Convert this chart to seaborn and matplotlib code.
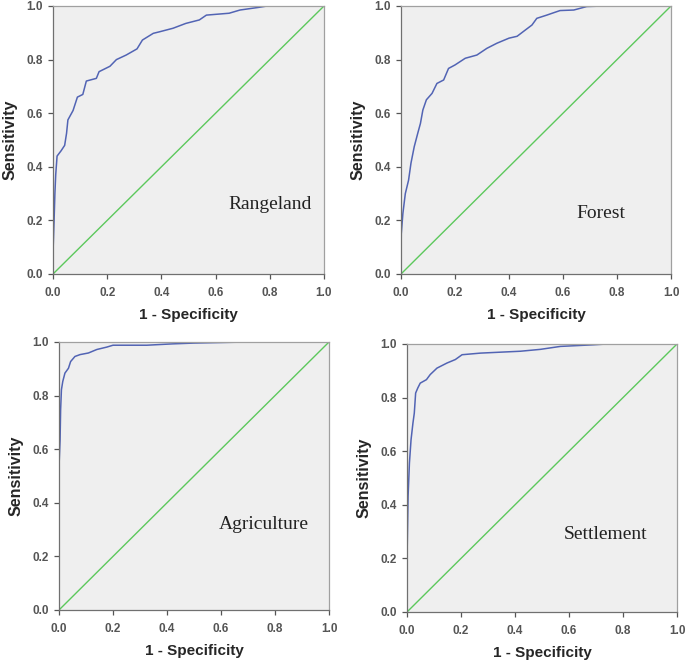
import pandas as pd
import seaborn as sns
import matplotlib
matplotlib.use("Agg")
import matplotlib.pyplot as plt

# ROC curve points (1 - specificity, sensitivity)
range_fpr = [0.0, 0.0, 0.004, 0.007, 0.01, 0.015, 0.03, 0.043, 0.05, 0.055, 0.074, 0.09, 0.11,
             0.123, 0.16, 0.17, 0.21, 0.234, 0.27, 0.31, 0.33, 0.37, 0.394, 0.443, 0.49, 0.54,
             0.566, 0.65, 0.69, 0.76, 0.79, 0.91]
range_tpr = [0.0, 0.08, 0.2, 0.3, 0.37, 0.44, 0.46, 0.48, 0.525, 0.575, 0.61, 0.66, 0.67,
             0.72, 0.73, 0.755, 0.775, 0.80, 0.817, 0.84, 0.873, 0.898, 0.904, 0.917, 0.935, 0.948,
             0.966, 0.973, 0.985, 0.995, 1.0, 1.0]

forest_fpr = [0.0, 0.001, 0.007, 0.016, 0.028, 0.037, 0.049, 0.062, 0.072, 0.081, 0.094, 0.115,
              0.133, 0.158, 0.176, 0.20, 0.238, 0.281, 0.318, 0.355, 0.40, 0.43, 0.46, 0.485,
              0.503, 0.54, 0.56, 0.589, 0.64, 0.688, 0.75]
forest_tpr = [0.0, 0.15, 0.226, 0.30, 0.35, 0.414, 0.475, 0.525, 0.562, 0.612, 0.65, 0.674,
              0.711, 0.724, 0.767, 0.78, 0.805, 0.817, 0.842, 0.861, 0.88, 0.887, 0.91, 0.929,
              0.954, 0.966, 0.973, 0.983, 0.985, 0.998, 1.0]

agri_fpr = [0.0, 0.0, 0.004, 0.006, 0.009, 0.014, 0.022, 0.035, 0.043, 0.059, 0.078, 0.109,
            0.14, 0.177, 0.20, 0.325, 0.42, 0.50, 0.646, 0.72]
agri_tpr = [0.0, 0.535, 0.635, 0.747, 0.822, 0.853, 0.884, 0.902, 0.927, 0.946, 0.953, 0.959,
            0.972, 0.981, 0.988, 0.988, 0.993, 0.996, 0.999, 1.0]

settle_fpr = [0.0, 0.0, 0.004, 0.009, 0.015, 0.022, 0.027, 0.032, 0.04, 0.049, 0.072, 0.086,
              0.111, 0.148, 0.179, 0.204, 0.272, 0.42, 0.494, 0.568, 0.69, 0.74, 0.84]
settle_tpr = [0.0, 0.195, 0.432, 0.556, 0.643, 0.705, 0.742, 0.817, 0.836, 0.854, 0.867, 0.886,
              0.91, 0.929, 0.942, 0.96, 0.966, 0.973, 0.98, 0.991, 0.997, 1.0, 1.0]

panel_names = ["Rangeland", "Forest", "Agriculture", "Settlement"]
label_pos = [(0.80, 0.26), (0.74, 0.226), (0.757, 0.318), (0.735, 0.289)]
ticks = [0.0, 0.2, 0.4, 0.6, 0.8, 1.0]
ref_line = [0.0, 1.0]

curves = [(range_fpr, range_tpr), (forest_fpr, forest_tpr),
          (agri_fpr, agri_tpr), (settle_fpr, settle_tpr)]

sns.set_style("ticks")
plt.rcParams['font.family'] = ['Liberation Sans', 'DejaVu Sans']

W, H = 685, 660
fig = plt.figure(figsize=(W / 100, H / 100), dpi=100)

# pixel boxes of each panel: left, right, top, bottom
boxes = [(53, 324, 6, 274), (401, 671, 6, 274), (59, 329, 342, 610), (407, 677, 344, 612)]

for (fpr, tpr), name, (lx, ly), (l, r, t, b) in zip(curves, panel_names, label_pos, boxes):
    ax = fig.add_axes([l / W, (H - b) / H, (r - l) / W, (b - t) / H])
    ax.set_facecolor("#efefef")
    df = pd.DataFrame({"fpr": fpr, "tpr": tpr})
    sns.lineplot(x=ref_line, y=ref_line, ax=ax, color="#5cc85c", linewidth=1.0)
    sns.lineplot(data=df, x="fpr", y="tpr", ax=ax, color="#5264b4", linewidth=1.1,
                 sort=False, estimator=None)
    ax.set_xlim(0, 1)
    ax.set_ylim(0, 1)
    ax.set_xticks(ticks)
    ax.set_yticks(ticks)
    ax.set_xticklabels([f"{v:.1f}" for v in ticks], fontsize=8.5, color="#555555", fontweight="bold")
    ax.set_yticklabels([f"{v:.1f}" for v in ticks], fontsize=8.5, color="#555555", fontweight="bold")
    ax.tick_params(length=3.5, width=0.9, color="#555555", pad=4)
    ax.tick_params(axis="x", pad=6)
    for s in ax.spines.values():
        s.set_color("#a0a0a0")
        s.set_linewidth(0.9)
    ax.spines["left"].set_color("#707070")
    ax.spines["bottom"].set_color("#707070")
    ax.set_xlabel("1 - Specificity", fontsize=11, fontweight="bold", labelpad=6)
    ax.set_ylabel("Sensitivity", fontsize=11.5, fontweight="bold", labelpad=6)
    ax.text(lx, ly, name, ha="center", va="center", fontsize=14,
            family="Liberation Serif", color="#222222")

fig.savefig("out.png", dpi=100)
